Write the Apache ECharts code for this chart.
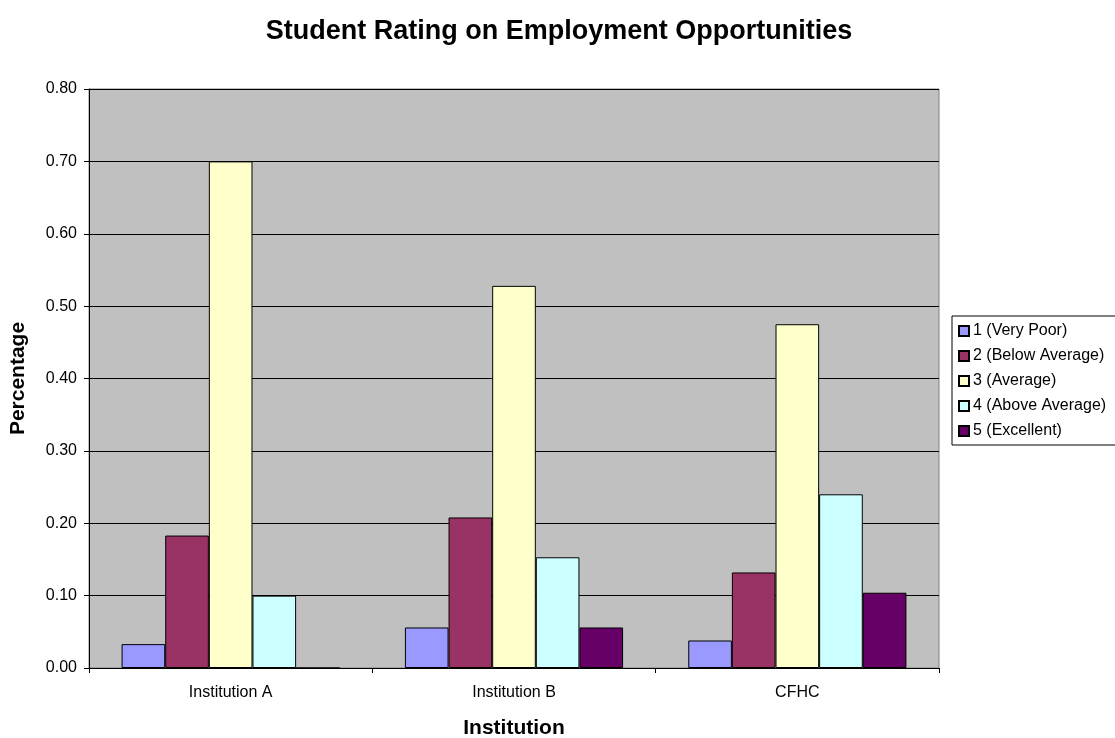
<!DOCTYPE html>
<html>
<head>
<meta charset="utf-8">
<style>
  html, body { margin: 0; padding: 0; background: #ffffff; }
  #chart { width: 1115px; height: 738px; }
</style>
<script src="https://cdn.jsdelivr.net/npm/echarts@6/dist/echarts.min.js"></script>
</head>
<body>
<div id="chart"></div>
<script>
// Institutions on the category axis
const institutions = ['Institution A', 'Institution B', 'CFHC'];

// Share of students giving each rating, per institution
const ratingNames = ['1 (Very Poor)', '2 (Below Average)', '3 (Average)', '4 (Above Average)', '5 (Excellent)'];
const veryPoor     = [0.033, 0.056, 0.038];
const belowAverage = [0.183, 0.208, 0.132];
const average      = [0.700, 0.528, 0.475];
const aboveAverage = [0.100, 0.153, 0.240];
const excellent    = [0.000, 0.056, 0.104];
const ratingValues = [veryPoor, belowAverage, average, aboveAverage, excellent];

const ratingColors = ['#9999FF', '#993366', '#FFFFCC', '#CCFFFF', '#660066'];

const FONT = 'Arial, "Liberation Sans", Helvetica, sans-serif';

const chart = echarts.init(document.getElementById('chart'));

chart.setOption({
  backgroundColor: '#ffffff',
  animation: false,
  title: {
    text: 'Student Rating on Employment Opportunities',
    left: 554,
    textAlign: 'center',
    top: 13,
    textStyle: { fontFamily: FONT, fontSize: 27, fontWeight: 'bold', color: '#000' }
  },
  legend: {
    orient: 'vertical',
    left: 952,
    top: 316,
    padding: [7, 20, 6, 6],
    itemGap: 9,
    itemWidth: 10,
    itemHeight: 10,
    icon: 'rect',
    borderColor: '#000',
    borderWidth: 1,
    backgroundColor: '#ffffff',
    textStyle: { fontFamily: FONT, fontSize: 16, color: '#000', padding: [0, 0, 0, -1] },
    data: ratingNames
  },
  grid: {
    left: 89,
    right: 176,
    top: 89,
    bottom: 70,
    containLabel: false,
    outerBoundsMode: 'none',
    show: true,
    backgroundColor: '#C0C0C0',
    borderColor: '#808080',
    borderWidth: 1
  },
  xAxis: {
    type: 'category',
    data: institutions,
    boundaryGap: true,
    name: 'Institution',
    nameLocation: 'middle',
    nameGap: 50,
    nameTextStyle: { fontFamily: FONT, fontSize: 21, fontWeight: 'bold', color: '#000' },
    axisLine: { show: true, lineStyle: { color: '#000', width: 1 } },
    axisTick: { show: true, length: 5, lineStyle: { color: '#000' } },
    axisLabel: { fontFamily: FONT, fontSize: 16, color: '#000', margin: 17 },
    splitLine: { show: false }
  },
  yAxis: {
    type: 'value',
    min: 0,
    max: 0.8,
    interval: 0.1,
    name: 'Percentage',
    nameLocation: 'middle',
    nameRotate: 90,
    nameGap: 60,
    nameTextStyle: { fontFamily: FONT, fontSize: 21, fontWeight: 'bold', color: '#000' },
    axisLine: { show: true, lineStyle: { color: '#000', width: 1 } },
    axisTick: { show: true, length: 5, lineStyle: { color: '#000' } },
    axisLabel: {
      fontFamily: FONT, fontSize: 16, color: '#000', margin: 12,
      formatter: v => v.toFixed(2)
    },
    splitLine: { show: true, lineStyle: { color: '#000', width: 1 } }
  },
  series: ratingNames.map((name, i) => ({
    name: name,
    type: 'bar',
    data: ratingValues[i],
    barGap: '0%',
    barCategoryGap: '23%',
    itemStyle: { color: ratingColors[i], borderColor: '#000', borderWidth: 1 }
  }))
});
</script>
</body>
</html>
